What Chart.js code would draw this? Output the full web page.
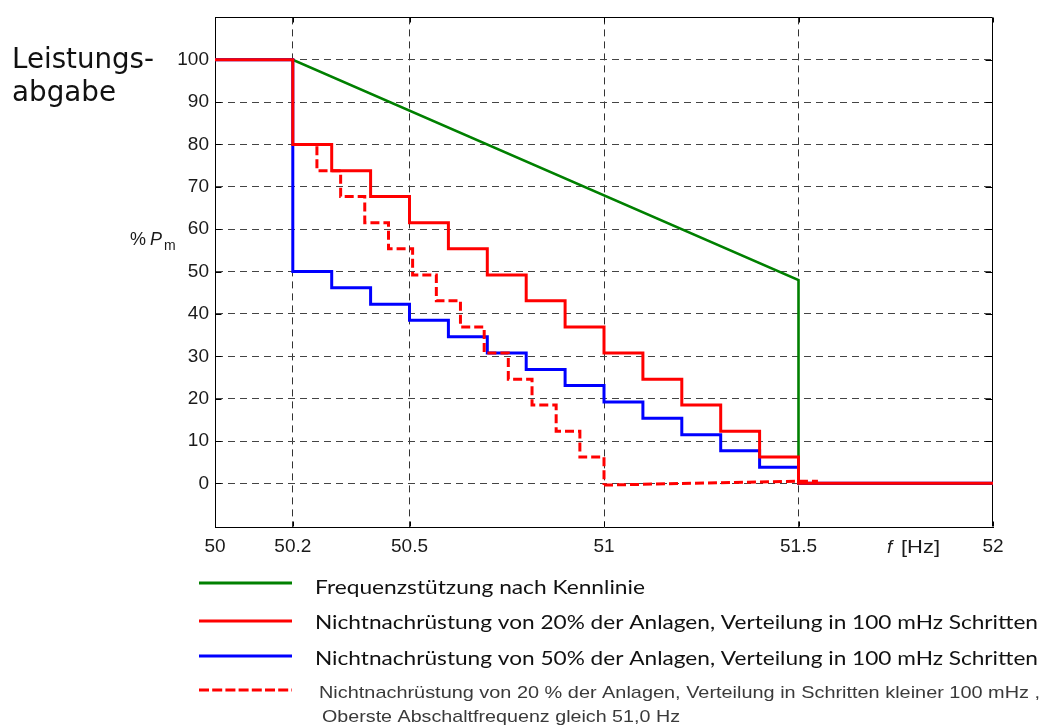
<!DOCTYPE html>
<html><head><meta charset="utf-8">
<script src="https://cdn.jsdelivr.net/npm/chart.js@4.4.0/dist/chart.umd.min.js"></script>
<style>html,body{margin:0;padding:0;background:#fff}canvas{display:block}</style>
</head><body>
<canvas id="c" width="1045" height="726"></canvas>
<script>
// ---- tick labels ----
const xTickValues = [50, 50.2, 50.5, 51, 51.5, 52];
const yTickValues = [0, 10, 20, 30, 40, 50, 60, 70, 80, 90, 100];

// ---- series: Frequenzstützung nach Kennlinie ----
const greenX = [50, 50.2, 51.5, 51.5, 52];
const greenY = [100, 100, 48, 0, 0];

// ---- series: 20% Nichtnachrüstung, 100 mHz Schritte ----
const red20X = [50, 50.2, 50.3, 50.4, 50.5, 50.6, 50.7, 50.8, 50.9, 51.0, 51.1, 51.2, 51.3, 51.4, 51.5, 52];
const red20Y = [100, 80, 73.8, 67.7, 61.5, 55.4, 49.2, 43.1, 36.9, 30.8, 24.6, 18.5, 12.3, 6.2, 0, 0];

// ---- series: 50% Nichtnachrüstung, 100 mHz Schritte ----
const blue50X = [50, 50.2, 50.3, 50.4, 50.5, 50.6, 50.7, 50.8, 50.9, 51.0, 51.1, 51.2, 51.3, 51.4, 51.5, 52];
const blue50Y = [100, 50, 46.2, 42.3, 38.5, 34.6, 30.8, 26.9, 23.1, 19.2, 15.4, 11.5, 7.7, 3.8, 0, 0];

// ---- series: 20%, Schritte kleiner 100 mHz, oberste Abschaltfrequenz 51,0 Hz ----
const redFineX = [50.2, 50.262, 50.323, 50.385, 50.446, 50.508, 50.569, 50.631, 50.692, 50.754, 50.815, 50.877, 50.938, 51.0];
const redFineY = [80, 73.8, 67.7, 61.5, 55.4, 49.2, 43.1, 36.9, 30.8, 24.6, 18.5, 12.3, 6.2, -0.4];
const redFineTailX = [51.0, 51.5, 51.55];
const redFineTailY = [-0.4, 0.5, 0.5];

// ---- legend texts ----
const legendLabels = [
  'Frequenzstützung nach Kennlinie',
  'Nichtnachrüstung von 20% der Anlagen, Verteilung in 100 mHz Schritten',
  'Nichtnachrüstung von 50% der Anlagen, Verteilung in 100 mHz Schritten',
  'Nichtnachrüstung von 20 % der Anlagen, Verteilung in Schritten kleiner 100 mHz ,'
];
const legendLabel4b = 'Oberste Abschaltfrequenz gleich 51,0 Hz';

const GREEN = '#008000', RED = '#ff0000', BLUE = '#0000ff';

function pts(xs, ys) { return xs.map((x, i) => ({ x: x, y: ys[i] })); }

function stretchText(ctx, text, x, y, width) {
  const w = ctx.measureText(text).width;
  ctx.save();
  ctx.translate(x, y);
  ctx.scale(width / w, 1);
  ctx.fillText(text, 0, 0);
  ctx.restore();
}

const framePlugin = {
  id: 'frame',
  beforeDatasetsDraw(chart) {
    const { ctx, chartArea: a, scales } = chart;
    ctx.save();
    ctx.strokeStyle = '#000';
    ctx.lineWidth = 1;
    ctx.beginPath();
    const L = Math.round(a.left) + 0.5, R = Math.round(a.right) - 0.5;
    const T = Math.round(a.top) + 0.5, B = Math.round(a.bottom) - 0.5;
    ctx.moveTo(L, T); ctx.lineTo(R, T); ctx.lineTo(R, B);
    yTickValues.forEach(v => {
      const py = Math.round(scales.y.getPixelForValue(v)) + 0.5;
      ctx.moveTo(L, py); ctx.lineTo(L + 6, py);
      ctx.moveTo(R, py); ctx.lineTo(R - 7, py);
    });
    xTickValues.forEach(v => {
      const px = Math.round(scales.x.getPixelForValue(v)) + 0.5;
      ctx.moveTo(px, B); ctx.lineTo(px, B - 5);
      ctx.moveTo(px, T); ctx.lineTo(px, T + 5);
    });
    ctx.stroke();
    ctx.restore();
  },
  afterDraw(chart) {
    const ctx = chart.ctx;
    ctx.save();
    ctx.textBaseline = 'alphabetic';
    ctx.textAlign = 'left';
    // y title
    ctx.fillStyle = '#111';
    ctx.font = '28px "DejaVu Sans"';
    stretchText(ctx, 'Leistungs-', 12, 68, 142);
    stretchText(ctx, 'abgabe', 12, 101, 104);
    ctx.fillStyle = '#1a1a1a';
    ctx.font = '18px "Liberation Sans"';
    ctx.fillText('%', 130, 245);
    ctx.font = 'italic 18px "Liberation Sans"';
    ctx.fillText('P', 150, 245);
    ctx.font = '14px "Liberation Sans"';
    ctx.fillText('m', 164, 250);
    // x title
    ctx.font = 'italic 19px "Liberation Sans"';
    ctx.fillText('f', 887, 553);
    ctx.font = '18px "Liberation Sans"';
    stretchText(ctx, '[Hz]', 901, 553, 39);

    // legend
    const rows = [
      { color: GREEN, dash: [], ly: 583, ty: 593.5, w: 330, font: '19px Lato', col: '#111', tx: 315, text: legendLabels[0] },
      { color: RED, dash: [], ly: 621, ty: 629, w: 723, font: '19px Lato', col: '#111', tx: 315, text: legendLabels[1] },
      { color: BLUE, dash: [], ly: 656, ty: 665, w: 723, font: '19px Lato', col: '#111', tx: 315, text: legendLabels[2] },
      { color: RED, dash: [10, 3.2], ly: 690, ty: 697.5, w: 721, font: '17px "Liberation Sans Narrow", "Liberation Sans"', col: '#3a3a3a', tx: 319, text: legendLabels[3] }
    ];
    rows.forEach(r => {
      ctx.save();
      ctx.strokeStyle = r.color;
      ctx.lineWidth = 3;
      ctx.setLineDash(r.dash);
      ctx.beginPath();
      ctx.moveTo(199, r.ly); ctx.lineTo(292, r.ly);
      ctx.stroke();
      ctx.restore();
      ctx.fillStyle = r.col;
      ctx.font = r.font;
      stretchText(ctx, r.text, r.tx, r.ty, r.w);
    });
    ctx.fillStyle = '#3a3a3a';
    ctx.font = '17px "Liberation Sans Narrow", "Liberation Sans"';
    stretchText(ctx, legendLabel4b, 322, 721.5, 358);
    ctx.restore();
  }
};

const tickFont = { family: '"Liberation Sans", Arial, sans-serif', size: 19 };

new Chart(document.getElementById('c'), {
  type: 'line',
  data: {
    datasets: [
      { label: legendLabels[3], data: pts(redFineX, redFineY), borderColor: RED, borderWidth: 3, borderDash: [9, 4], stepped: true, order: 0 },
      { label: legendLabels[3] + ' (tail)', data: pts(redFineTailX, redFineTailY), borderColor: RED, borderWidth: 3, borderDash: [9, 4], stepped: false, order: 0 },
      { label: legendLabels[1], data: pts(red20X, red20Y), borderColor: RED, borderWidth: 3, stepped: true, order: 1 },
      { label: legendLabels[2], data: pts(blue50X, blue50Y), borderColor: BLUE, borderWidth: 3, stepped: true, order: 2 },
      { label: legendLabels[0], data: pts(greenX, greenY), borderColor: GREEN, borderWidth: 2.6, stepped: false, order: 3 }
    ]
  },
  options: {
    responsive: false,
    animation: false,
    layout: { padding: { left: 0, right: 52, top: 10, bottom: 159 } },
    elements: { point: { radius: 0, hoverRadius: 0 }, line: { tension: 0, fill: false, borderJoinStyle: 'miter' } },
    plugins: { legend: { display: false }, tooltip: { enabled: false } },
    events: [],
    scales: {
      x: {
        type: 'linear', min: 50, max: 52,
        afterBuildTicks: s => { s.ticks = xTickValues.map(v => ({ value: v })); },
        afterFit: s => { s.height = 40; },
        ticks: { autoSkip: false, maxRotation: 0, padding: 8, font: tickFont, color: '#1a1a1a', callback: v => String(v) },
        grid: { color: c => (c.tick && (c.tick.value === 50 || c.tick.value === 52)) ? 'rgba(0,0,0,0)' : '#333', lineWidth: 1, drawTicks: false },
        border: { display: true, color: '#000', width: 1, dash: [7, 5] }
      },
      y: {
        type: 'linear', min: -10.3, max: 110,
        afterBuildTicks: s => { s.ticks = yTickValues.map(v => ({ value: v })); },
        afterFit: s => { s.width = 215; },
        ticks: { padding: 6, font: tickFont, color: '#1a1a1a', callback: v => String(v) },
        grid: { color: '#444', lineWidth: 1, drawTicks: false },
        border: { display: true, color: '#000', width: 1, dash: [7, 5] }
      }
    }
  },
  plugins: [framePlugin]
});
</script>
</body></html>
